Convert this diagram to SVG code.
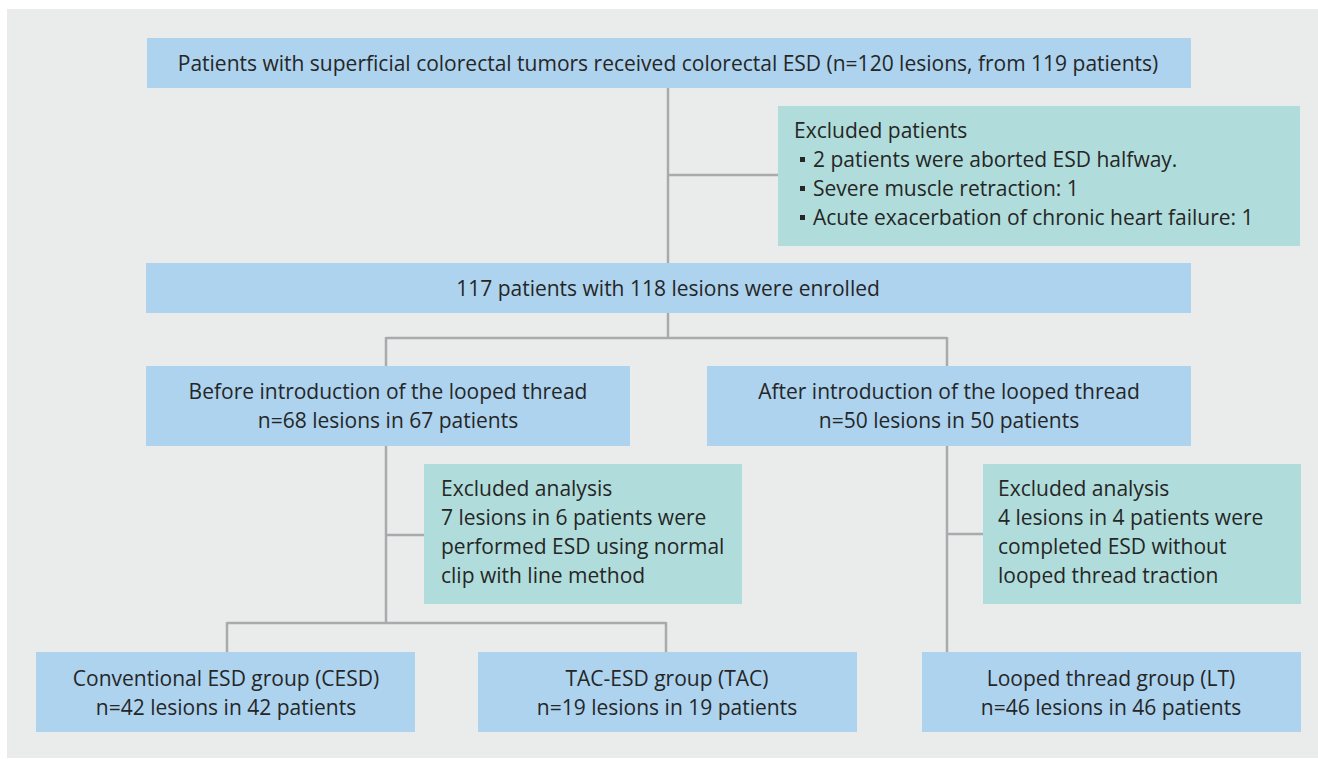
<svg xmlns="http://www.w3.org/2000/svg" width="1318" height="759" viewBox="0 0 1318 759">
<style>
.bg{fill:#eaecec}
.b{fill:#add3ef}
.g{fill:#b0dddb}
.t{font-family:"Open Sans","Noto Sans","Liberation Sans",sans-serif;font-size:21px;fill:#262626}
.c{text-anchor:middle}
.ln{fill:none;stroke:#a9aaac;stroke-width:2.5}
.bu{fill:#262626}
</style>
<rect x="0" y="0" width="1318" height="759" fill="#ffffff"/>
<rect class="bg" x="7" y="9" width="1311" height="749"/>
<g id="connectors">
<path class="ln" d="M668 88V263M668 175H778M668 313V338M386 338H947M386 337V366M947 337V366M386 446V623M386 535H424M227 623H666M227 622V652M666 622V652M947 446V652M947 534H983"/>
</g>
<g id="n1">
<rect class="b" x="147" y="38" width="1044" height="50"/>
<text class="t c" x="668" y="71">Patients with superficial colorectal tumors received colorectal ESD (n=120 lesions, from 119 patients)</text>
</g>
<g id="n2">
<rect class="g" x="778" y="106" width="522" height="140"/>
<text class="t" x="794" y="138">Excluded patients</text>
<rect class="bu" x="800" y="157" width="5" height="5"/>
<text class="t" x="813" y="167">2 patients were aborted ESD halfway.</text>
<rect class="bu" x="800" y="186" width="5" height="5"/>
<text class="t" x="813" y="196">Severe muscle retraction: 1</text>
<rect class="bu" x="800" y="215" width="5" height="5"/>
<text class="t" x="813" y="225">Acute exacerbation of chronic heart failure: 1</text>
</g>
<g id="n3">
<rect class="b" x="146" y="263" width="1045" height="50"/>
<text class="t c" x="668" y="296">117 patients with 118 lesions were enrolled</text>
</g>
<g id="n4">
<rect class="b" x="146" y="366" width="484" height="80"/>
<text class="t c" x="388" y="399">Before introduction of the looped thread</text>
<text class="t c" x="388" y="428">n=68 lesions in 67 patients</text>
</g>
<g id="n5">
<rect class="b" x="707" y="366" width="484" height="80"/>
<text class="t c" x="949" y="399">After introduction of the looped thread</text>
<text class="t c" x="949" y="428">n=50 lesions in 50 patients</text>
</g>
<g id="n6">
<rect class="g" x="424" y="464" width="318" height="140"/>
<text class="t" x="441" y="496">Excluded analysis</text>
<text class="t" x="441" y="525">7 lesions in 6 patients were</text>
<text class="t" x="441" y="554">performed ESD using normal</text>
<text class="t" x="441" y="583">clip with line method</text>
</g>
<g id="n7">
<rect class="g" x="983" y="464" width="318" height="140"/>
<text class="t" x="998" y="496">Excluded analysis</text>
<text class="t" x="998" y="525">4 lesions in 4 patients were</text>
<text class="t" x="998" y="554">completed ESD without</text>
<text class="t" x="998" y="583">looped thread traction</text>
</g>
<g id="n8">
<rect class="b" x="36" y="652" width="379" height="80"/>
<text class="t c" x="226" y="686">Conventional ESD group (CESD)</text>
<text class="t c" x="226" y="715">n=42 lesions in 42 patients</text>
</g>
<g id="n9">
<rect class="b" x="478" y="652" width="379" height="80"/>
<text class="t c" x="667" y="686">TAC-ESD group (TAC)</text>
<text class="t c" x="667" y="715">n=19 lesions in 19 patients</text>
</g>
<g id="n10">
<rect class="b" x="922" y="652" width="379" height="80"/>
<text class="t c" x="1111" y="686">Looped thread group (LT)</text>
<text class="t c" x="1111" y="715">n=46 lesions in 46 patients</text>
</g>
</svg>
